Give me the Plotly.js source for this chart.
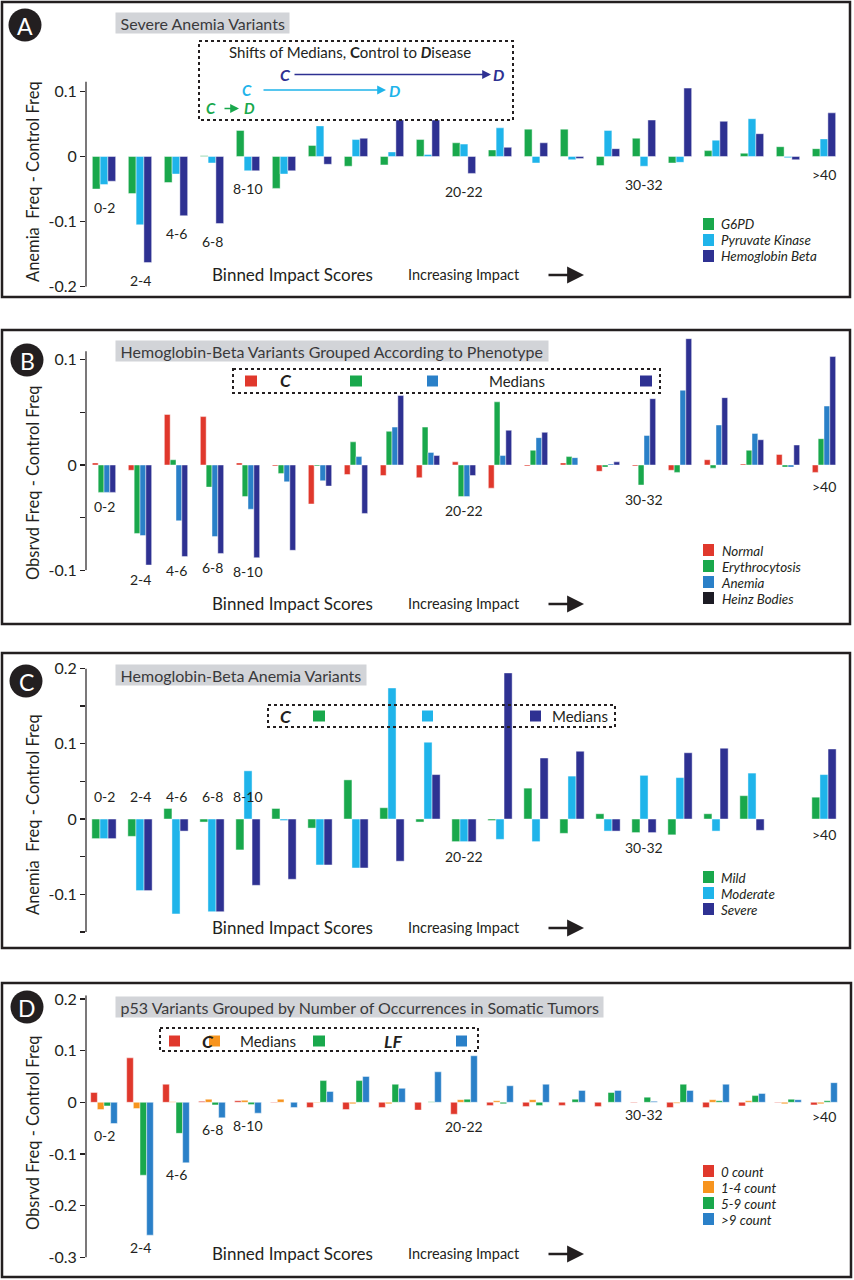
<!DOCTYPE html>
<html><head><meta charset="utf-8">
<script src="https://cdn.plot.ly/plotly-3.0.1.min.js"></script>
<style>html,body{margin:0;padding:0;background:#fff}</style>
</head><body><div id="chart" style="width:854px;height:1280px"></div>
<script>
// ---------- DATA ----------
const bins = ['0-2','2-4','4-6','6-8','8-10','10-12','12-14','14-16','16-18','18-20','20-22','22-24','24-26','26-28','28-30','30-32','32-34','34-36','36-38','38-40','>40'];
const shownBins = ['0-2','2-4','4-6','6-8','8-10','20-22','30-32','>40'];

// Panel A: Severe anemia variants
const aG6PD   = [-0.050,-0.057,-0.040,0.001,0.040,-0.049,0.017,-0.015,-0.013,0.026,0.021,0.010,0.042,0.042,-0.014,0.028,-0.010,0.009,0.005,0.015,0.012];
const aPK     = [-0.043,-0.105,-0.027,-0.010,-0.022,-0.027,0.047,0.026,0.007,0.003,0.019,0.044,-0.010,-0.005,0.040,-0.015,-0.009,0.025,0.058,-0.002,0.027];
const aHbB    = [-0.038,-0.163,-0.091,-0.103,-0.022,-0.022,-0.012,0.028,0.056,0.056,-0.026,0.014,0.021,-0.003,0.012,0.056,0.105,0.054,0.035,-0.005,0.067];
const aNames  = ['G6PD','Pyruvate Kinase','Hemoglobin Beta'];

// Panel B: Hemoglobin-beta variants by phenotype
const bNormal = [0.002,-0.005,0.048,0.046,0.002,-0.001,-0.037,-0.009,-0.010,-0.012,0.003,-0.022,-0.001,0.002,-0.006,-0.001,-0.005,0.005,0.001,0.010,-0.007];
const bEry    = [-0.026,-0.065,0.005,-0.021,-0.030,-0.008,-0.001,0.022,0.032,0.036,-0.030,0.060,0.014,0.008,-0.002,-0.019,-0.007,-0.003,0.014,-0.002,0.025];
const bAnemia = [-0.026,-0.067,-0.053,-0.068,-0.042,-0.016,-0.015,0.008,0.036,0.012,-0.030,0.009,0.026,0.007,0.001,0.028,0.071,0.038,0.030,-0.002,0.056];
const bHeinz  = [-0.026,-0.095,-0.087,-0.084,-0.088,-0.081,-0.020,-0.046,0.066,0.009,-0.010,0.033,0.031,0,0.003,0.063,0.120,0.064,0.024,0.019,0.103];
const bNames  = ['Normal','Erythrocytosis','Anemia','Heinz Bodies'];

// Panel C: Hemoglobin-beta anemia variants
const cMild     = [-0.026,-0.023,0.014,-0.004,-0.041,0.014,-0.012,0.052,0.015,-0.004,-0.030,-0.002,0.041,-0.019,0.007,-0.018,-0.021,0.007,0.031,0,0.029];
const cModerate = [-0.026,-0.095,-0.126,-0.123,0.064,-0.002,-0.061,-0.065,0.174,0.102,-0.030,-0.027,-0.030,0.057,-0.016,0.058,0.055,-0.016,0.061,0,0.059];
const cSevere   = [-0.026,-0.095,-0.016,-0.123,-0.088,-0.080,-0.061,-0.065,-0.056,0.059,-0.030,0.194,0.081,0.090,-0.016,-0.018,0.088,0.094,-0.015,0,0.093];
const cNames    = ['Mild','Moderate','Severe'];

// Panel D: p53 variants by occurrences in somatic tumors
const d0count  = [0.019,0.086,0.035,0.002,0.003,-0.001,-0.010,-0.014,-0.010,-0.015,-0.023,-0.006,-0.008,-0.006,-0.008,-0.001,-0.010,-0.010,-0.007,-0.001,-0.005];
const d1to4    = [-0.014,-0.012,0.001,0.006,0.004,0.006,-0.001,-0.003,-0.003,0,0.005,0.003,0.005,0,0,0,-0.002,0.005,0.003,-0.003,-0.003];
const d5to9    = [-0.007,-0.141,-0.060,-0.005,-0.004,0,0.042,0.042,0.035,0.001,0.006,-0.003,-0.006,0.006,0.019,0.010,0.035,0.003,0.013,0.006,0.003];
const dOver9   = [-0.041,-0.257,-0.117,-0.030,-0.021,-0.010,0.021,0.050,0.027,0.059,0.090,0.032,0.035,0.023,0.023,0.002,0.023,0.035,0.017,0.005,0.038];
const dNames   = ['0 count','1-4 count','5-9 count','>9 count'];

// Tick values
const aTicks = [0.1,0,-0.1,-0.2];
const bTicks = [0.1,0,-0.1];
const bMinor = [0.05,-0.05];
const cTicks = [0.2,0.1,0,-0.1];
const cMinor = [0.15,0.05,-0.05,-0.15];
const dTicks = [0.2,0.1,0,-0.1,-0.2,-0.3];

// ---------- STYLE ----------
const W = 854, H = 1280;
const PX = x => x / W, PY = y => 1 - y / H;
const INK = '#231f20';
const GREEN = '#19a84c', CYAN = '#1fb4ea', NAVY = '#2e3192', RED = '#e0382c', BLUE = '#2a80c8', ORANGE = '#f7941e';
const FONT = 'Lato, "Open Sans", sans-serif';
const ROW = 16; // key row spacing in px

const traces = [];
const shapes = [], annotations = [];
const rect = (x0, y0, x1, y1, extra) => shapes.push(Object.assign({type: 'rect', xref: 'paper', yref: 'paper', x0: PX(x0), x1: PX(x1), y0: PY(y0), y1: PY(y1)}, extra));
const sq = (x0, x1, yc, color, h) => rect(x0, yc - (h || 11) / 2, x1, yc + (h || 11) / 2, {fillcolor: color, line: {width: 0}});
const txt = (x, y, text, opts) => annotations.push(Object.assign({xref: 'paper', yref: 'paper', x: PX(x), y: PY(y), text, showarrow: false, xanchor: 'center', yanchor: 'middle', font: {size: 14, color: INK, family: FONT}}, opts || {}));
const arrow = (x0, x1, y, color, width, size) => annotations.push({xref: 'paper', yref: 'paper', x: PX(x1), y: PY(y), ax: x0 - x1, ay: 0, axref: 'pixel', ayref: 'pixel', text: '', showarrow: true, arrowhead: 2, arrowsize: size, arrowwidth: width, arrowcolor: color, standoff: 0, startstandoff: 0});
const esc = s => s.replace(/>/g, '&gt;');

function addPanel(series, names, colors, n, w, keyCenter, keyColors) {
  const k = series.length;
  series.forEach((vals, i) => {
    traces.push({
      type: 'bar', x: bins, y: vals, name: names[i],
      xaxis: 'x' + (n === 1 ? '' : n), yaxis: 'y' + (n === 1 ? '' : n),
      width: w, offset: -k * w / 2 + i * w, showlegend: false,
      marker: {color: colors[i], line: {width: 0.6, color: 'rgba(255,255,255,0.75)'}},
      hoverinfo: 'x+y+name'
    });
    const yc = keyCenter + (i - (k - 1) / 2) * ROW;
    sq(703, 714, yc, (keyColors || colors)[i], 12);
  });
  // compact key text block: line spacing = 1.3 * base font size
  const lines = names.map(nm => '<span style="font-size:13.4px"><i>' + esc(nm) + '</i></span>').join('<br>');
  txt(719, keyCenter + 0.5, lines, {xanchor: 'left', align: 'left', font: {size: ROW / 1.3, color: INK, family: FONT}});
}
addPanel([aG6PD, aPK, aHbB], aNames, [GREEN, CYAN, NAVY], 1, 0.216, 240);
addPanel([bNormal, bEry, bAnemia, bHeinz], bNames, [RED, GREEN, BLUE, NAVY], 2, 0.162, 574, [RED, GREEN, BLUE, '#1c1b24']);
addPanel([cMild, cModerate, cSevere], cNames, [GREEN, CYAN, NAVY], 3, 0.225, 893);
addPanel([d0count, d1to4, d5to9, dOver9], dNames, [RED, ORANGE, GREEN, BLUE], 4, 0.185, 1195);

function xax(anchor) {
  return {domain: [PX(86), PX(842)], range: [-0.5, 20.5], type: 'category', categoryarray: bins,
    showticklabels: false, ticks: '', showline: false, showgrid: false, zeroline: false, anchor, fixedrange: true};
}
function yax(top, bottom, range, ticks, minor, anchor) {
  const a = {domain: [PY(bottom), PY(top)], range, anchor, tickmode: 'array', tickvals: ticks,
    ticktext: ticks.map(v => v === 0 ? '0' : String(v)), ticks: 'outside', ticklen: 5, tickwidth: 1.2,
    tickcolor: INK, showline: false, showgrid: false, zeroline: false,
    tickfont: {size: 16, color: INK, family: FONT}, fixedrange: true};
  if (minor) a.minor = {tickmode: 'array', tickvals: minor, ticks: 'outside', ticklen: 5, tickwidth: 1.2, tickcolor: INK, showgrid: false};
  return a;
}

// panel frames
rect(2, 2, 850, 297, {line: {color: INK, width: 2.5}});
rect(2, 330, 850, 624, {line: {color: INK, width: 2.5}});
rect(2, 653, 850, 948, {line: {color: INK, width: 2.5}});
rect(2, 983, 851, 1277, {line: {color: INK, width: 2.5}});

// y axis lines
[[1, -0.2, 0.115], [2, -0.1, 0.108], [3, -0.15, 0.2], [4, -0.3, 0.207]].forEach(([n, a, b]) => {
  const s = n === 1 ? '' : n;
  shapes.push({type: 'line', xref: 'x' + s + ' domain', yref: 'y' + s, x0: 0, x1: 0, y0: a, y1: b, line: {color: INK, width: 1.2}});
});

// panel letters
[['A', 25, 25], ['B', 27, 360], ['C', 26, 681], ['D', 27, 1007]].forEach(([L, cx, cy]) => {
  shapes.push({type: 'circle', xref: 'paper', yref: 'paper', x0: PX(cx - 16.5), x1: PX(cx + 16.5), y0: PY(cy + 16.5), y1: PY(cy - 16.5), fillcolor: INK, line: {width: 0}});
  txt(cx, cy + 1, L, {font: {size: 23, color: '#fff', family: FONT}});
});

// title boxes
const titleOpts = {xanchor: 'left', bgcolor: '#d2d4d8', borderpad: 0.5, font: {size: 16, color: '#3a3a3c', family: FONT}};
txt(115, 23, '&nbsp;Severe Anemia Variants&nbsp;', titleOpts);
txt(115, 350.5, '&nbsp;Hemoglobin-Beta Variants Grouped According to Phenotype&nbsp;', titleOpts);
txt(115, 674.5, '&nbsp;Hemoglobin-Beta Anemia Variants&nbsp;', titleOpts);
txt(115, 1007, '&nbsp;p53 Variants Grouped by Number of Occurrences in Somatic Tumors&nbsp;', titleOpts);

// y axis titles
const ytOpts = {textangle: -90, font: {size: 16.5, color: INK, family: FONT}};
txt(33, 182, 'Anemia\u00a0 Freq - Control Freq', ytOpts);
txt(33, 483, 'Obsrvd Freq - Control Freq', ytOpts);
txt(33, 815, 'Anemia\u00a0 Freq - Control Freq', ytOpts);
txt(33, 1133, 'Obsrvd Freq - Control Freq', ytOpts);

// x annotations
[274, 603, 927, 1253].forEach(y => {
  txt(292.5, y, 'Binned Impact Scores', {font: {size: 17, color: INK, family: FONT}});
  txt(463.5, y, 'Increasing Impact', {font: {size: 14.5, color: INK, family: FONT}});
  arrow(547, 584, y + 1, INK, 2.6, 1.3);
});

// bin labels below each group (positions from data)
function binLabels(series, n, shift, aboveFirst) {
  const s = n === 1 ? '' : n;
  shownBins.forEach(b => {
    const i = bins.indexOf(b);
    let y = Math.min(0, ...series.map(v => v[i]));
    let ys = shift;
    if (aboveFirst && i < 5) { y = 0; ys = 23; }
    annotations.push({xref: 'x' + s, yref: 'y' + s, x: b, y, yshift: ys, text: esc(b), showarrow: false,
      xanchor: 'center', yanchor: 'middle', font: {size: 14, color: INK, family: FONT}});
  });
}
binLabels([aG6PD, aPK, aHbB], 1, -18, false);
binLabels([bNormal, bEry, bAnemia, bHeinz], 2, -14, false);
binLabels([cMild, cModerate, cSevere], 3, -15, true);
binLabels([d0count, d1to4, d5to9, dOver9], 4, -12, false);

// dashed boxes
const dash = {line: {color: INK, width: 2, dash: 'dot'}};
const bi = (x, y, t, c, s) => txt(x, y, '<b><i>' + t + '</i></b>', {font: {size: s || 17.5, color: c, family: FONT}});
// A
rect(199, 41, 513, 120, dash);
txt(350, 52, 'Shifts of Medians, <b>C</b>ontrol to <b><i>D</i></b>isease', {font: {size: 15, color: INK, family: FONT}});
bi(285, 74.5, 'C', NAVY, 16); arrow(293, 491, 74.5, NAVY, 1.6, 1.1); bi(498, 74.5, 'D', NAVY, 16);
bi(247, 90, 'C', CYAN, 15); arrow(262, 386, 90, CYAN, 1.6, 1.1); bi(394, 90, 'D', CYAN, 16);
bi(211, 108.5, 'C', GREEN, 15); arrow(223, 239, 108.5, GREEN, 1.6, 1.1); bi(249, 108.5, 'D', GREEN, 15);
// B
rect(233, 369, 660, 393, dash);
sq(245, 257, 381, RED); bi(286, 381, 'C', INK);
sq(350, 362, 381, GREEN); sq(427, 438, 381, BLUE);
txt(517, 381, 'Medians', {font: {size: 15, color: INK, family: FONT}});
sq(640, 652, 381, NAVY);
// C
rect(268, 705, 615, 727, dash);
bi(286, 716, 'C', INK); sq(313, 325, 716, GREEN); sq(422, 433, 716, CYAN); sq(530, 541, 716, NAVY);
txt(580, 716, 'Medians', {font: {size: 15, color: INK, family: FONT}});
// D
rect(160, 1028, 478, 1051, dash);
sq(169, 180, 1041, RED); bi(208, 1041, 'C', INK); sq(209, 220, 1041, ORANGE);
txt(268, 1041, 'Medians', {font: {size: 15, color: INK, family: FONT}});
sq(313, 325, 1041, GREEN); bi(393, 1041, 'LF', INK); sq(456, 467, 1041, BLUE);

const layout = {
  width: W, height: H, margin: {l: 0, r: 0, t: 0, b: 0},
  paper_bgcolor: '#fff', plot_bgcolor: 'rgba(0,0,0,0)',
  barmode: 'group', font: {family: FONT, color: INK},
  showlegend: false,
  xaxis: xax('y'), xaxis2: xax('y2'), xaxis3: xax('y3'), xaxis4: xax('y4'),
  yaxis:  yax(81.6, 286.7, [-0.2, 0.115], aTicks, null, 'x'),
  yaxis2: yax(333.4, 570.3, [-0.1, 0.125], bTicks, bMinor, 'x2'),
  yaxis3: yax(668.4, 932, [-0.15, 0.2], cTicks, cMinor, 'x3'),
  yaxis4: yax(995.3, 1257.4, [-0.3, 0.207], dTicks, null, 'x4'),
  shapes, annotations
};

Plotly.newPlot('chart', traces, layout, {displayModeBar: false, staticPlot: true});
</script>
</body></html>
